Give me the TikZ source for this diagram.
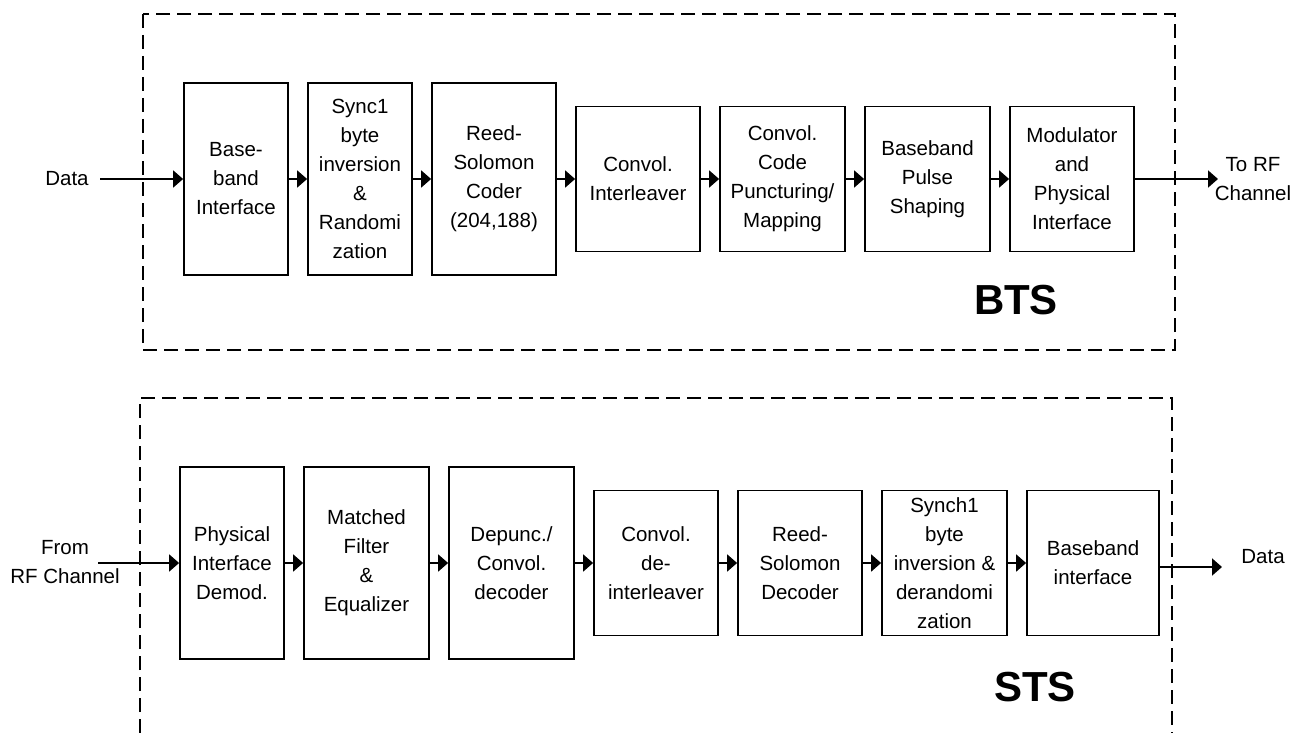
\documentclass[tikz,border=0pt]{standalone}
\usepackage{fontspec}
\setmainfont{Liberation Sans}
\usetikzlibrary{arrows.meta}
\begin{document}
\begin{tikzpicture}[x=1pt,y=-1pt,
  blk/.style={draw,line width=1.8pt,rectangle,inner sep=0pt,align=center,
    font=\fontsize{20.5}{29}\selectfont},
  lbl/.style={inner sep=0pt,align=center,font=\fontsize{20.5}{29}\selectfont},
  big/.style={inner sep=0pt,font=\fontsize{42}{42}\selectfont\bfseries},
  frame/.style={line width=1.8pt,dash pattern=on 14pt off 7pt},
  conn/.style={line width=2pt,-{Triangle[length=10pt,width=17pt]}},
  tall/.style={minimum height=192pt},
  short/.style={minimum height=145pt}]
\useasboundingbox (0,0) rectangle (1301,733);
% frames
\draw[frame] (143,14) rectangle (1175,350);
\draw[frame] (140,733) -- (140,398) -- (1172,398) -- (1172,733);
% top row (BTS)
\node[blk,tall,minimum width=104pt] (t1) at (236,179) {Base-\\band\\Interface};
\node[blk,tall,minimum width=104pt] (t2) at (360,179) {Sync1\\byte\\inversion\\\&\\Randomi\\zation};
\node[blk,tall,minimum width=124pt] (t3) at (494,179) {Reed-\\Solomon\\Coder\\(204,188)};
\node[blk,short,minimum width=124pt] (t4) at (638,179) {Convol.\\Interleaver};
\node[blk,short,minimum width=125pt] (t5) at (782.5,179) {Convol.\\Code\\Puncturing/\\Mapping};
\node[blk,short,minimum width=125pt] (t6) at (927.5,179) {Baseband\\Pulse\\Shaping};
\node[blk,short,minimum width=124pt] (t7) at (1072,179) {Modulator\\and\\Physical\\Interface};
\node[lbl] (din) at (67,179) {Data};
\coordinate (dinS) at (100,179);
\node[lbl] (torf) at (1253,179) {To RF\\Channel};
\coordinate (toE) at (1218,179);
\draw[conn] (dinS) -- (t1);
\draw[conn] (t1) -- (t2);
\draw[conn] (t2) -- (t3);
\draw[conn] (t3) -- (t4);
\draw[conn] (t4) -- (t5);
\draw[conn] (t5) -- (t6);
\draw[conn] (t6) -- (t7);
\draw[conn] (t7) -- (toE);
\node[big] (bts) at (1016,300) {BTS};
% bottom row (STS)
\node[blk,tall,minimum width=104pt] (b1) at (232,563) {Physical\\Interface\\Demod.};
\node[blk,tall,minimum width=125pt] (b2) at (366.5,563) {Matched\\Filter\\\&\\Equalizer};
\node[blk,tall,minimum width=125pt] (b3) at (511.5,563) {Depunc./\\Convol.\\decoder};
\node[blk,short,minimum width=124pt] (b4) at (656,563) {Convol.\\de-\\interleaver};
\node[blk,short,minimum width=124pt] (b5) at (800,563) {Reed-\\Solomon\\Decoder};
\node[blk,short,minimum width=125pt] (b6) at (944.5,563) {Synch1\\byte\\inversion \&\\derandomi\\zation};
\node[blk,short,minimum width=132pt] (b7) at (1093,563) {Baseband\\interface};
\node[lbl] (fromrf) at (65,562) {From\\RF Channel};
\coordinate (fromS) at (98,563);
\node[lbl] (dout) at (1263,557) {Data};
\coordinate (doutE) at (1222,567);
\draw[conn] (fromS) -- (b1);
\draw[conn] (b1) -- (b2);
\draw[conn] (b2) -- (b3);
\draw[conn] (b3) -- (b4);
\draw[conn] (b4) -- (b5);
\draw[conn] (b5) -- (b6);
\draw[conn] (b6) -- (b7);
\draw[conn] (b7.east |- doutE) -- (doutE);
\node[big] (sts) at (1035,687) {STS};
\end{tikzpicture}
\end{document}
